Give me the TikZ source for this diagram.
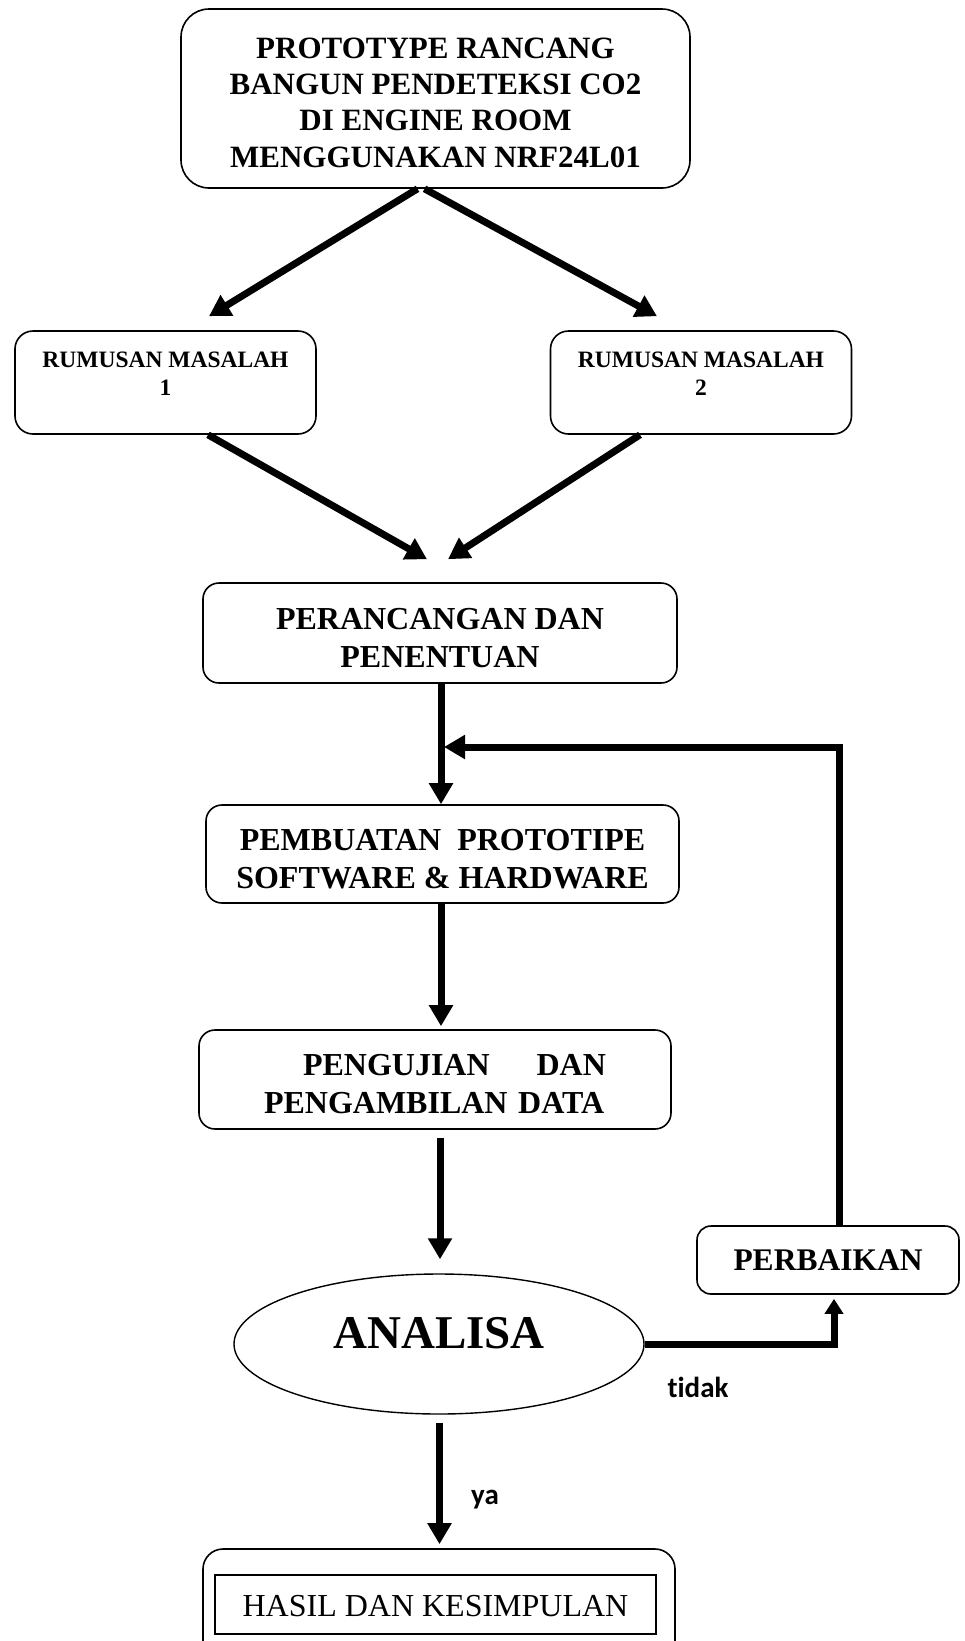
\documentclass[tikz,border=0pt]{standalone}
\usepackage{fontspec}
\setmainfont{Liberation Serif}
\newfontfamily\calibfont[Ligatures=NoCommon]{Carlito}
\usetikzlibrary{arrows.meta,shapes.geometric,calc}
\begin{document}
\begin{tikzpicture}[x=1pt,y=-1pt,
  box/.style={draw,line width=1.6pt,rounded corners=16pt,align=center,inner sep=0pt,
    font=\bfseries\fontsize{32}{38}\selectfont},
  flow/.style={line width=7pt,-{Triangle[length=21pt,width=23pt]}},
  smallflow/.style={line width=7pt,-{Triangle[length=15pt,width=18pt]}},
  lbl/.style={font=\calibfont\bfseries\fontsize{29}{32}\selectfont,inner sep=0pt}]
\useasboundingbox (0,0) rectangle (964,1641);
\begin{scope}
\clip (0,0) rectangle (964,1641);

% boxes
\node[box,rounded corners=28pt,minimum width=509pt,minimum height=179pt,
  font=\bfseries\fontsize{31}{36.3}\selectfont] (top) at (435.5,98.5)
  {\rule{0pt}{28.5pt}PROTOTYPE RANCANG\\BANGUN PENDETEKSI CO2\\DI ENGINE ROOM\\MENGGUNAKAN NRF24L01};

\node[box,rounded corners=18pt,minimum width=301pt,minimum height=103pt,
  font=\bfseries\fontsize{23.5}{28}\selectfont] (r1) at (165.5,382.5)
  {RUMUSAN MASALAH\\1\rule[-17pt]{0pt}{17pt}};
\node[box,rounded corners=18pt,minimum width=301pt,minimum height=103pt,
  font=\bfseries\fontsize{23.5}{28}\selectfont] (r2) at (701,382.5)
  {RUMUSAN MASALAH\\2\rule[-17pt]{0pt}{17pt}};

\node[box,minimum width=474pt,minimum height=100pt] (p1) at (440,633)
  {\rule{0pt}{31pt}PERANCANGAN DAN\\PENENTUAN};
\node[box,minimum width=473pt,minimum height=98pt] (p2) at (442.5,854)
  {\rule{0pt}{31pt}PEMBUATAN\ \ PROTOTIPE\\SOFTWARE \& HARDWARE};
\node[box,minimum width=472pt,minimum height=99pt,text width=342pt,align=left] (p3) at (435,1079.5)
  {\hspace*{39pt}\rule{0pt}{30pt}PENGUJIAN\hfill DAN\\PENGAMBILAN DATA};

\node[draw,ellipse,line width=1.4pt,minimum width=410pt,minimum height=140pt,inner sep=0pt,
  font=\bfseries\fontsize{47}{50}\selectfont] (an) at (439,1344)
  {ANALISA\rule[-23pt]{0pt}{23pt}};

\node[box,rounded corners=14pt,minimum width=262pt,minimum height=68pt,
  font=\bfseries\fontsize{31.5}{36}\selectfont] (pb) at (828,1260) {PERBAIKAN};

\node[draw,line width=1.6pt,rounded corners=20pt,minimum width=472pt,minimum height=120pt,
  inner sep=0pt] (hasil) at (439,1609) {};
\node[draw,line width=1.6pt,minimum width=441pt,minimum height=59pt,inner sep=0pt,
  font=\fontsize{32}{38}\selectfont] (hasilin) at (435.5,1604.5)
  {\rule{0pt}{25pt}HASIL DAN KESIMPULAN};

% connectors
\draw[flow] ([xshift=-18pt]top.south) -- ([xshift=43.5pt,yshift=14pt]r1.north);
\draw[flow] ([xshift=-11pt]top.south) -- ([xshift=-44pt,yshift=14pt]r2.north);
\draw[flow] ([xshift=42.5pt]r1.south) -- ([xshift=-13pt,yshift=23pt]p1.north);
\draw[flow] ([xshift=-61pt]r2.south) -- ([xshift=8pt,yshift=23pt]p1.north);
\draw[flow] ($(p1.south)+(1,0)$) -- ($(p1.south |- p2.north)+(1,0)$);
\draw[flow] ($(p2.south)+(-1.5,0)$) -- ($(p2.south |- p3.north)+(-1.5,-3)$);
\draw[flow] ($(an.north |- p3.south)+(1,8)$) -- ($(an.north)+(1,-14)$);
\draw[flow] ($(an.south)+(0.5,8)$) -- ($(an.south |- hasil.north)+(0.5,-4)$);
\draw[smallflow] (an.east) -| ($(pb.south)+(6,4)$);
\coordinate (fb) at (839,747);
\draw[flow] ($(pb.north)+(11,0)$) |- ($(p1.south |- fb)+(4,0)$);

% labels
\node[lbl] (tidak) at (698,1387) {tidak};
\node[lbl] (ya) at (485,1500) {ya};
\end{scope}
\end{tikzpicture}
\end{document}
